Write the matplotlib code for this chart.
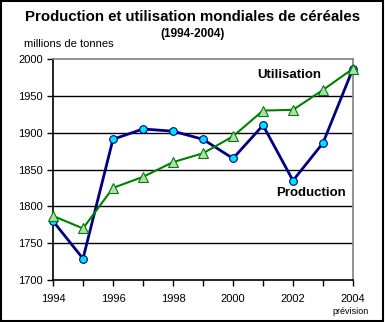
import matplotlib
matplotlib.use("Agg")
import matplotlib.pyplot as plt
from matplotlib.ticker import MultipleLocator

years = [1994, 1995, 1996, 1997, 1998, 1999, 2000, 2001, 2002, 2003, 2004]
production = [1780, 1729, 1891, 1905, 1902, 1891, 1865, 1910, 1835, 1886, 1987]
utilisation = [1787, 1770, 1825, 1840, 1860, 1872, 1895, 1930, 1931, 1958, 1987]
yticks = [1700, 1750, 1800, 1850, 1900, 1950, 2000]
xticks = [1994, 1996, 1998, 2000, 2002, 2004]

plt.rcParams['font.family'] = ['Liberation Sans', 'DejaVu Sans']

fig = plt.figure(figsize=(3.85, 3.22), dpi=100)
fig.patch.set_facecolor('white')
# outer black frame
fig.add_artist(plt.Rectangle((0.003, 0.004), 0.993, 0.992, transform=fig.transFigure,
                             fill=False, edgecolor='black', linewidth=1.5))

ax = fig.add_axes([53/385, 1-280/322, 300/385, 221/322])
ax.set_xlim(1994, 2004)
ax.set_ylim(1700, 2000)
ax.set_yticks(yticks)
ax.set_xticks(xticks)
ax.xaxis.set_minor_locator(MultipleLocator(1))
for y in yticks[1:-1]:
    ax.axhline(y, color='black', linewidth=1.0, zorder=1)

ax.plot(years, production, color='#000080', linewidth=2.0, marker='o', markersize=5.5,
        markerfacecolor='#00E5FF', markeredgecolor='#000080', markeredgewidth=0.8, zorder=3, clip_on=False)
ax.plot(years, utilisation, color='#008000', linewidth=1.5, marker='^', markersize=7.5,
        markerfacecolor='#B0DDB0', markeredgecolor='#008000', markeredgewidth=0.8, zorder=4, clip_on=False)

for s in ['top', 'right']:
    ax.spines[s].set_color('#808080')
    ax.spines[s].set_linewidth(1.2)
for s in ['left', 'bottom']:
    ax.spines[s].set_color('black')
    ax.spines[s].set_linewidth(1.2)

ax.tick_params(axis='both', which='both', direction='out', length=4, width=1, labelsize=8, colors='black')
ax.tick_params(axis='x', which='major', pad=6)
ax.tick_params(axis='x', which='minor', length=4)

ax.text(2000.8, 1978, 'Utilisation', fontsize=9.5, fontweight='bold', ha='left', va='center')
ax.text(2001.45, 1818, 'Production', fontsize=9.5, fontweight='bold', ha='left', va='center')

fig.text(0.5, 1-17/322, 'Production et utilisation mondiales de céréales', ha='center', va='center',
         fontsize=10.8, fontweight='bold')
fig.text(0.5, 1-34/322, '(1994-2004)', ha='center', va='center', fontsize=8.5, fontweight='bold')
fig.text(24/385, 1-44/322, 'millions de tonnes', ha='left', va='center', fontsize=8)
fig.text(351/385, 1-311/322, 'prévision', ha='center', va='center', fontsize=6.5)

fig.savefig('out.png', dpi=100)
